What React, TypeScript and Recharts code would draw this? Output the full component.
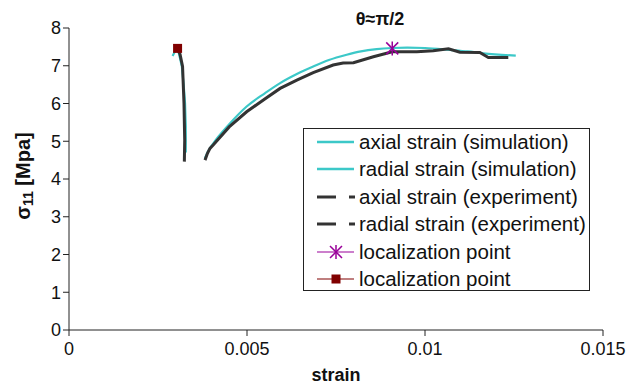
import React from 'react';
import { ComposedChart, Line, Scatter, XAxis, YAxis, Legend, Customized } from 'recharts';

const xTicks = [0, 0.005, 0.01, 0.015];
const yTicks = [0, 1, 2, 3, 4, 5, 6, 7, 8];

const axialSimStrain = [0.00382, 0.0039, 0.00405, 0.0045, 0.00499, 0.0055, 0.00593, 0.0064, 0.00686, 0.0073, 0.0078, 0.0082, 0.00864, 0.00908, 0.0095, 0.01, 0.0107, 0.0112, 0.01164, 0.01255];
const axialSimStress = [4.55, 4.72, 4.94, 5.45, 5.92, 6.27, 6.54, 6.78, 6.98, 7.15, 7.29, 7.38, 7.44, 7.47, 7.48, 7.47, 7.42, 7.38, 7.33, 7.27];

const radialSimStrain = [0.00291, 0.00296, 0.00302, 0.00308, 0.00313, 0.00317, 0.00322, 0.00326, 0.00328, 0.00328, 0.00328];
const radialSimStress = [7.26, 7.35, 7.42, 7.35, 7.15, 6.98, 6.5, 6.0, 5.4, 4.77, 4.7];

const axialExpStrain = [0.00382, 0.00389, 0.00396, 0.00405, 0.0045, 0.00499, 0.0055, 0.00593, 0.0064, 0.00686, 0.00742, 0.0077, 0.00799, 0.00855, 0.00908, 0.00977, 0.01023, 0.01066, 0.01098, 0.01154, 0.01178, 0.01234];
const axialExpStress = [4.5, 4.68, 4.81, 4.9, 5.38, 5.78, 6.12, 6.4, 6.62, 6.82, 7.02, 7.07, 7.08, 7.24, 7.37, 7.37, 7.4, 7.45, 7.36, 7.35, 7.22, 7.22];

const radialExpStrain = [0.00305, 0.00312, 0.00319, 0.00323, 0.00325, 0.00324];
const radialExpStress = [7.46, 7.3, 6.98, 6.0, 5.03, 4.46];

const locPoint1 = [{ x: 0.00908, y: 7.46 }];
const locPoint2 = [{ x: 0.00305, y: 7.46 }];

const legendLabels = [
  'axial strain (simulation)',
  'radial strain (simulation)',
  'axial strain (experiment)',
  'radial strain (experiment)',
  'localization point',
  'localization point',
];

const pts = (xs: number[], ys: number[]) => xs.map((x, i) => ({ x, y: ys[i] }));

const axialSim = pts(axialSimStrain, axialSimStress);
const radialSim = pts(radialSimStrain, radialSimStress);
const axialExp = pts(axialExpStrain, axialExpStress);
const radialExp = pts(radialExpStrain, radialExpStress);

const CYAN = '#3cc8c8';
const DARK = '#333333';
const PURPLE = '#990099';
const MAROON = '#800000';
const FONT = 'Liberation Sans, Arial, sans-serif';

const StarShape = (props: any) => {
  const { cx, cy } = props;
  return (
    <g stroke={PURPLE} strokeWidth={1.5}>
      <line x1={cx} y1={cy - 7} x2={cx} y2={cy + 7} />
      <line x1={cx - 6} y1={cy - 6} x2={cx + 6} y2={cy + 6} />
      <line x1={cx - 6} y1={cy + 6} x2={cx + 6} y2={cy - 6} />
    </g>
  );
};

const SquareShape = (props: any) => {
  const { cx, cy } = props;
  return <rect x={cx - 4.5} y={cy - 4.5} width={9} height={9} fill={MAROON} />;
};

const legendSample = (i: number) => {
  if (i < 2) return <line x1={0} y1={6} x2={37} y2={6} stroke={CYAN} strokeWidth={2.5} />;
  if (i < 4)
    return (
      <g stroke={DARK} strokeWidth={3}>
        <line x1={0} y1={6} x2={19} y2={6} />
        <line x1={32} y1={6} x2={38} y2={6} />
      </g>
    );
  if (i === 4)
    return (
      <g>
        <line x1={0} y1={6} x2={37} y2={6} stroke={PURPLE} strokeWidth={1.2} />
        <StarShape cx={19} cy={6} />
      </g>
    );
  return (
    <g>
      <line x1={0} y1={6} x2={37} y2={6} stroke={MAROON} strokeWidth={1.2} />
      <SquareShape cx={19} cy={6} />
    </g>
  );
};

const renderLegend = () => (
  <div
    style={{
      position: 'relative',
      width: 287,
      height: 163,
      border: '1.5px solid #222',
      background: '#fff',
      boxSizing: 'border-box',
      fontFamily: FONT,
      fontSize: 20.5,
      color: '#111',
    }}
  >
    {legendLabels.map((lab, i) => (
      <div key={i} style={{ position: 'absolute', left: 13, top: 1 + i * 27.4, height: 24, whiteSpace: 'nowrap', display: 'flex', alignItems: 'center' }}>
        <svg width={40} height={12} style={{ marginRight: 2, overflow: 'visible' }}>
          {legendSample(i)}
        </svg>
        <span>{lab}</span>
      </div>
    ))}
  </div>
);

const YLabel = () => (
  <text
    transform="translate(30,176) rotate(-90)"
    textAnchor="middle"
    fontFamily={FONT}
    fontWeight="bold"
    fontSize={20}
    fill="#111"
  >
    σ<tspan fontSize={14} dy={3}>11</tspan>
    <tspan dy={-3}> [Mpa]</tspan>
  </text>
);

const Annot = () => (
  <g fontFamily={FONT} fill="#111">
    <text x={380} y={25} textAnchor="middle" fontWeight="bold" fontSize={18}>θ≈π/2</text>
    <text x={336} y={381} textAnchor="middle" fontWeight="bold" fontSize={18}>strain</text>
    <YLabel />
  </g>
);

export default function App() {
  return (
    <div style={{ position: 'absolute', left: 0, top: 0, width: 630, height: 388, background: '#fff' }}>
      <ComposedChart width={630} height={388} margin={{ top: 28, right: 27, bottom: 0, left: 0 }}>
        <XAxis
          dataKey="x"
          type="number"
          domain={[0, 0.015]}
          ticks={xTicks}
          tickFormatter={(v: number) => String(v)}
          stroke="#222"
          tickSize={6}
          tickMargin={6}
          height={58}
          allowDataOverflow
          tick={{ fill: '#111', fontSize: 18, fontFamily: FONT }}
        />
        <YAxis
          dataKey="y"
          type="number"
          domain={[0, 8]}
          ticks={yTicks}
          stroke="#222"
          tickSize={6}
          tickMargin={2}
          width={69}
          allowDataOverflow
          tick={{ fill: '#111', fontSize: 18, fontFamily: FONT }}
        />
        <Line data={radialSim} dataKey="y" type="linear" stroke={CYAN} strokeWidth={2.2} dot={false} isAnimationActive={false} />
        <Line data={axialSim} dataKey="y" type="monotone" stroke={CYAN} strokeWidth={2.2} dot={false} isAnimationActive={false} />
        <Line data={axialExp} dataKey="y" type="linear" stroke={DARK} strokeWidth={3} dot={false} isAnimationActive={false} />
        <Line data={radialExp} dataKey="y" type="linear" stroke={DARK} strokeWidth={3} dot={false} isAnimationActive={false} />
        <Scatter data={locPoint1} dataKey="y" shape={StarShape} isAnimationActive={false} />
        <Scatter data={locPoint2} dataKey="y" shape={SquareShape} isAnimationActive={false} />
        <Legend
          layout="horizontal"
          verticalAlign="middle"
          align="center"
          content={renderLegend}
          wrapperStyle={{ position: 'absolute', left: 303, top: 128, width: 287, height: 163 }}
        />
        <Customized component={Annot} />
      </ComposedChart>
    </div>
  );
}
